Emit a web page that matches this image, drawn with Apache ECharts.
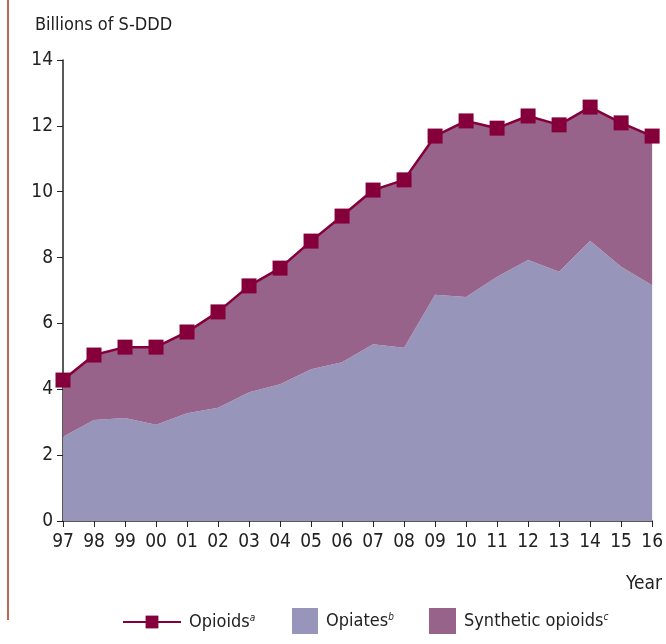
<!DOCTYPE html>
<html>
<head>
<meta charset="UTF-8">
<title>Opioids</title>
<style>
  html, body, #chart { margin: 0; padding: 0; width: 666px; height: 644px; background: #fff; }
</style>
</head>
<body>
<div id="chart"></div>
<script src="https://cdn.jsdelivr.net/npm/echarts@6/dist/echarts.min.js"></script>
<script>
// years on the x axis
const years = ['97','98','99','00','01','02','03','04','05','06','07','08','09','10','11','12','13','14','15','16'];
// total opioids (line with markers), billions of S-DDD
const opioids = [4.28,5.04,5.28,5.28,5.74,6.35,7.14,7.68,8.50,9.26,10.05,10.36,11.69,12.15,11.93,12.30,12.03,12.57,12.09,11.69];
// opiates (lower area)
const opiates = [2.56,3.07,3.13,2.92,3.27,3.44,3.91,4.15,4.61,4.82,5.37,5.26,6.87,6.80,7.42,7.93,7.57,8.51,7.72,7.16];
// synthetic opioids (upper area, stacked on opiates)
const synthetic = [1.72,1.97,2.15,2.36,2.47,2.91,3.23,3.53,3.89,4.44,4.68,5.10,4.82,5.35,4.51,4.37,4.46,4.06,4.37,4.53];
const yTicks = [0, 2, 4, 6, 8, 10, 12, 14];

const FONT = '"Liberation Sans Narrow", "DejaVu Sans Condensed", sans-serif';
const INK = '#222';
const sup = { fontSize: 10, fontStyle: 'italic', fontFamily: FONT, color: INK, verticalAlign: 'top', padding: [0, 0, 8, 0] };
const legendText = { color: INK, fontSize: 18, fontFamily: FONT, padding: [0, 0, 0, 3], rich: { sup: sup } };

const chart = echarts.init(document.getElementById('chart'));
chart.setOption({
  animation: false,
  textStyle: { fontFamily: FONT },
  grid: { left: 63, right: 13, top: 60, bottom: 123 },
  xAxis: {
    type: 'category',
    data: years,
    boundaryGap: false,
    axisLine: { lineStyle: { color: INK, width: 1.5 } },
    axisTick: { length: 6, lineStyle: { color: INK } },
    axisLabel: { color: INK, fontSize: 19, margin: 12, fontFamily: FONT, interval: 0 }
  },
  yAxis: {
    type: 'value',
    min: yTicks[0],
    max: yTicks[yTicks.length - 1],
    interval: 2,
    name: 'Billions of S-DDD',
    nameLocation: 'end',
    nameGap: 26,
    nameTextStyle: { color: INK, fontSize: 18, fontFamily: FONT, align: 'left', padding: [0, 0, 0, -28] },
    splitLine: { show: false },
    axisLine: { show: true, lineStyle: { color: INK, width: 1.5 } },
    axisTick: { show: true, length: 6, lineStyle: { color: INK } },
    axisLabel: { color: INK, fontSize: 19, margin: 10, fontFamily: FONT }
  },
  legend: [
    {
      data: ['Opioids'],
      left: 117, top: 608,
      itemWidth: 58, itemHeight: 16,
      textStyle: legendText,
      formatter: n => n + '{sup|a}'
    },
    {
      data: [{ name: 'Opiates', icon: 'rect' }],
      left: 287, top: 603,
      itemWidth: 26, itemHeight: 26,
      textStyle: legendText,
      formatter: n => n + '{sup|b}'
    },
    {
      data: [{ name: 'Synthetic opioids', icon: 'rect' }],
      left: 424, top: 603,
      itemWidth: 27, itemHeight: 26,
      textStyle: legendText,
      formatter: n => n + '{sup|c}'
    }
  ],
  graphic: [
    { type: 'line', shape: { x1: 8, y1: 0, x2: 8, y2: 620 }, style: { stroke: '#a8321a', lineWidth: 1.5 } },
    { type: 'text', right: 4, top: 575, style: { text: 'Year', fill: INK, font: '19px ' + FONT } }
  ],
  series: [
    {
      name: 'Opiates', type: 'line', stack: 'total', data: opiates,
      showSymbol: false, lineStyle: { width: 0 },
      itemStyle: { color: '#9795b9' },
      areaStyle: { color: '#9795b9', opacity: 1 }
    },
    {
      name: 'Synthetic opioids', type: 'line', stack: 'total', data: synthetic,
      showSymbol: false, lineStyle: { width: 0 },
      itemStyle: { color: '#98638a' },
      areaStyle: { color: '#98638a', opacity: 1 }
    },
    {
      name: 'Opioids', type: 'line', data: opioids, z: 5,
      symbol: 'rect', symbolSize: 15,
      lineStyle: { color: '#85003a', width: 2.5 },
      itemStyle: { color: '#85003a' }
    }
  ]
});
</script>
</body>
</html>
